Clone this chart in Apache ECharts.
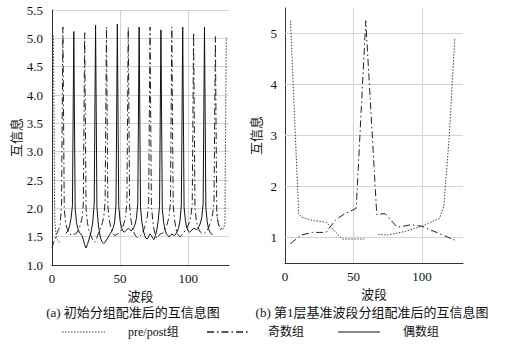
<!DOCTYPE html>
<html>
<head>
<meta charset="utf-8">
<script src="https://cdn.jsdelivr.net/npm/echarts@6/dist/echarts.min.js"></script>
<style>html,body{margin:0;padding:0;background:#fff}#c{width:529px;height:348px}</style>
</head>
<body>
<div id="c"></div>
<script>
// ---------- data ----------
const seriesNames = ['pre/post组', '奇数组', '偶数组'];
const xTicks = [0, 50, 100];
const yTicksA = [1.0, 1.5, 2.0, 2.5, 3.0, 3.5, 4.0, 4.5, 5.0, 5.5];
const yTicksB = [1, 2, 3, 4, 5];

// panel (a): value index = band number
const oddBandsA = [
 1.30,1.38,1.45,1.52,1.58,1.63,1.72,2.05,5.20,2.00,
 1.75,1.65,1.58,1.55,1.53,1.52,1.54,1.55,1.56,1.60,
 1.65,1.72,1.82,2.08,5.10,2.00,1.75,1.62,1.55,1.50,
 1.44,1.40,1.42,1.48,1.55,1.60,1.66,1.75,1.85,2.10,
 5.20,2.05,1.80,1.68,1.60,1.55,1.52,1.53,1.55,1.56,
 1.58,1.62,1.68,1.75,1.85,2.10,5.20,2.05,1.80,1.66,
 1.58,1.53,1.50,1.48,1.50,1.52,1.55,1.60,1.66,1.74,
 1.85,2.10,5.20,2.05,1.78,1.62,1.52,1.47,1.50,1.54,
 1.55,1.56,1.58,1.62,1.68,1.76,1.86,2.10,5.20,2.05,
 1.80,1.65,1.56,1.52,1.50,1.52,1.55,1.58,1.62,1.66,
 1.70,1.76,1.86,2.08,5.10,2.02,1.78,1.68,1.62,1.58,
 1.56,1.55,1.56,1.58,1.62,1.66,1.72,1.80,1.90,2.10,
 5.03,1.95,1.75,1.66,1.62
];
const evenFirstBandA = 10;
const evenBandsA = [
 1.56,1.58,1.62,1.70,1.82,2.05,5.12,2.00,1.75,1.64,
 1.58,1.55,1.52,1.45,1.36,1.30,1.36,1.44,1.52,1.62,
 1.78,2.08,5.23,2.02,1.72,1.55,1.45,1.40,1.38,1.40,
 1.44,1.48,1.52,1.56,1.60,1.66,1.76,2.05,5.25,2.05,
 1.78,1.66,1.60,1.58,1.60,1.62,1.65,1.63,1.60,1.62,
 1.66,1.72,1.82,2.08,5.20,2.02,1.76,1.62,1.52,1.47,
 1.46,1.50,1.55,1.52,1.47,1.45,1.52,1.62,1.78,2.05,
 5.15,2.00,1.75,1.62,1.55,1.52,1.50,1.52,1.55,1.53,
 1.52,1.55,1.60,1.66,1.78,2.06,5.20,2.02,1.78,1.66,
 1.60,1.58,1.60,1.62,1.65,1.64,1.62,1.64,1.68,1.74,
 1.84,2.08,5.20,2.02,1.76,1.64,1.58,1.55,1.54
];
const prePostBandsA  = [1, 2, 3, 4, 5, 6, null, 121, 122, 123, 124, 125, 126, 127, 128];
const prePostValuesA = [5.05, 1.80, 1.52, 1.44, 1.40, 1.42, null, 1.90, 1.75, 1.68, 1.66, 1.62, 1.65, 1.72, 5.02];

// panel (b)
const prePostBandsB  = [4, 10, 12, 21, 30, 33, 37, 42, 50, 58, null, 68, 75, 88, 100, 113, 116, 120, 124];
const prePostValuesB = [5.25, 1.47, 1.40, 1.33, 1.30, 1.22, 1.10, 0.97, 0.97, 0.97, null, 1.06, 1.05, 1.12, 1.22, 1.38, 1.62, 3.00, 4.92];
const oddBandsB  = [4, 12, 20, 30, 37, 44, 52, 59, 67, 73, 82, 92, 100, 124];
const oddValuesB = [0.88, 1.05, 1.10, 1.10, 1.35, 1.47, 1.57, 5.25, 1.45, 1.47, 1.20, 1.25, 1.22, 0.95];

// ---------- build ----------
const FONT = "'Liberation Serif','Noto Sans CJK SC',serif";
const TXT = '#111';
function pairs(xs, ys) {
  return xs.map((x, i) => (x === null ? ['-', '-'] : [x, ys[i]]));
}
const oddA = oddBandsA.map((v, i) => [i, v]);
const evenA = evenBandsA.map((v, i) => [i + evenFirstBandA, v]);

const dotStyle = { color: '#444', width: 1, type: [1.5, 1.5] };
const dashDotStyle = { color: '#222', width: 1, type: [7, 3, 1.5, 3] };
const solidStyle = { color: '#111', width: 1, type: 'solid' };

function xAxisCfg(gi) {
  return {
    gridIndex: gi, type: 'value', min: 0, max: 130, interval: 50,
    axisLine: { show: true, onZero: false, lineStyle: { color: '#333', width: 1 } },
    axisTick: { show: false },
    axisLabel: { showMaxLabel: false, margin: 7, fontSize: 13, color: TXT, fontFamily: FONT },
    splitLine: { show: true, showMinLine: false, showMaxLine: false, lineStyle: { color: '#d4d4d4', width: 1 } },
    name: '波段', nameLocation: 'middle', nameGap: 21,
    nameTextStyle: { fontSize: 13, color: TXT, fontFamily: FONT }
  };
}

const option = {
  animation: false,
  backgroundColor: '#fff',
  grid: [
    { left: 52, top: 10, width: 177, height: 255 },
    { left: 285, top: 8, width: 178, height: 255 }
  ],
  xAxis: [xAxisCfg(0), xAxisCfg(1)],
  yAxis: [
    {
      gridIndex: 0, type: 'value', min: yTicksA[0], max: yTicksA[yTicksA.length - 1], interval: 0.5,
      axisLine: { show: true, lineStyle: { color: '#333', width: 1 } },
      axisTick: { show: false },
      axisLabel: { margin: 9, fontSize: 13, color: TXT, fontFamily: FONT, formatter: v => v.toFixed(1) },
      splitLine: { show: true, showMinLine: false, lineStyle: { color: '#d4d4d4', width: 1 } },
      name: '互信息', nameLocation: 'middle', nameRotate: 90, nameGap: 28,
      nameTextStyle: { fontSize: 13, color: TXT, fontFamily: FONT }
    },
    {
      gridIndex: 1, type: 'value', min: 0.5, max: 5.5, interval: 0.5,
      axisLine: { show: true, lineStyle: { color: '#333', width: 1 } },
      axisTick: { show: false },
      axisLabel: { margin: 8, fontSize: 13, color: TXT, fontFamily: FONT,
        formatter: v => (yTicksB.indexOf(Math.round(v * 100) / 100) >= 0 ? String(v) : '') },
      splitLine: { show: false },
      name: '互信息', nameLocation: 'middle', nameRotate: 90, nameGap: 22,
      nameTextStyle: { fontSize: 13, color: TXT, fontFamily: FONT }
    }
  ],
  series: [
    { name: seriesNames[0], type: 'line', xAxisIndex: 0, yAxisIndex: 0, data: pairs(prePostBandsA, prePostValuesA),
      showSymbol: false, symbol: 'none', lineStyle: dotStyle, connectNulls: false, z: 3 },
    { name: seriesNames[1], type: 'line', xAxisIndex: 0, yAxisIndex: 0, data: oddA,
      showSymbol: false, symbol: 'none', lineStyle: dashDotStyle, z: 3 },
    { name: seriesNames[2], type: 'line', xAxisIndex: 0, yAxisIndex: 0, data: evenA,
      showSymbol: false, symbol: 'none', lineStyle: solidStyle, z: 3 },
    { name: seriesNames[0], type: 'line', xAxisIndex: 1, yAxisIndex: 1, data: pairs(prePostBandsB, prePostValuesB),
      showSymbol: false, symbol: 'none', lineStyle: dotStyle, connectNulls: false, z: 3 },
    { name: seriesNames[1], type: 'line', xAxisIndex: 1, yAxisIndex: 1, data: pairs(oddBandsB, oddValuesB),
      showSymbol: false, symbol: 'none', lineStyle: dashDotStyle, z: 3,
      markLine: { silent: true, symbol: ['none', 'none'], label: { show: false }, z: 1,
        lineStyle: { color: '#d4d4d4', width: 1, type: 'solid' },
        data: yTicksB.map(v => ({ yAxis: v })) } }
  ],
  graphic: [
    { type: 'text', x: 133, y: 312, style: { text: '(a) 初始分组配准后的互信息图', fontSize: 13, fontFamily: FONT, fill: TXT, align: 'center', verticalAlign: 'middle' } },
    { type: 'text', x: 372, y: 312, style: { text: '(b) 第1层基准波段分组配准后的互信息图', fontSize: 13, fontFamily: FONT, fill: TXT, align: 'center', verticalAlign: 'middle' } },
    { type: 'line', shape: { x1: 62, y1: 332, x2: 105, y2: 332 }, style: { stroke: '#444', lineWidth: 1, lineDash: [1.5, 1.5] } },
    { type: 'text', x: 128, y: 332, style: { text: seriesNames[0], fontSize: 12, fontFamily: FONT, fill: TXT, verticalAlign: 'middle' } },
    { type: 'line', shape: { x1: 207, y1: 332, x2: 249, y2: 332 }, style: { stroke: '#222', lineWidth: 1.3, lineDash: [7, 3, 1.5, 3] } },
    { type: 'text', x: 268, y: 332, style: { text: seriesNames[1], fontSize: 12, fontFamily: FONT, fill: TXT, verticalAlign: 'middle' } },
    { type: 'line', shape: { x1: 338, y1: 332, x2: 380, y2: 332 }, style: { stroke: '#111', lineWidth: 1.2 } },
    { type: 'text', x: 403, y: 332, style: { text: seriesNames[2], fontSize: 12, fontFamily: FONT, fill: TXT, verticalAlign: 'middle' } }
  ]
};
const chart = echarts.init(document.getElementById('c'), null, { renderer: 'svg' });
chart.setOption(option);
</script>
</body>
</html>
